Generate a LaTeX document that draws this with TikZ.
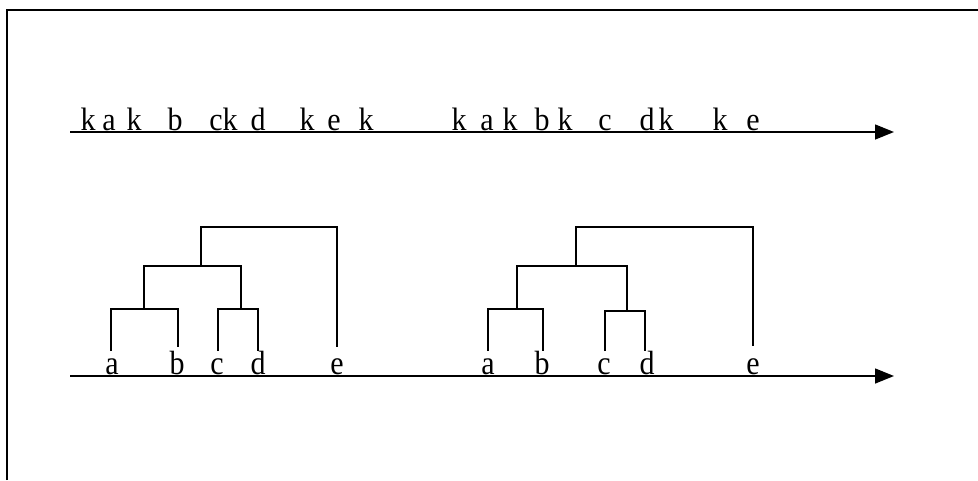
\documentclass[tikz,border=0pt]{standalone}
\usepackage{fontspec}
\setmainfont{Liberation Serif}
\usetikzlibrary{arrows.meta}
\begin{document}
\begin{tikzpicture}[x=1pt,y=-1pt,
  lbl/.style={inner sep=0pt,anchor=base,font=\fontsize{30}{30}\selectfont},
  axis/.style={line width=1.5pt,-{Triangle[length=19pt,width=15pt]}},
  tree/.style={line width=1.4pt},
  frame/.style={line width=2pt}]
\useasboundingbox (0,0) rectangle (978,480);
% frame
\coordinate (f1) at (6.5,480);
\coordinate (f2) at (6.5,9.5);
\coordinate (f3) at (978,9.5);
\draw[frame] (f1) -- (f2) -- (f3);
% axes
\coordinate (t0) at (70,132);
\coordinate (t1) at (894,132);
\coordinate (b0) at (70,376);
\coordinate (b1) at (894,376);
\draw[axis] (t0) -- (t1);
\draw[axis] (b0) -- (b1);
% top letters
\foreach \x/\t [count=\i] in {88/k,109/a,134/k,175/b,216/c,230/k,258/d,307/k,334/e,366/k,
  459/k,487/a,510/k,542/b,565/k,605/c,647/d,666/k,720/k,753/e}
  \node[lbl] (top\i) at (\x,130) {\scalebox{1}[1.08]{\t}};
% bottom letters
\foreach \x/\t in {112/a,177/b,217/c,258/d,337/e}
  \node[lbl] (L\t) at (\x,374) {\scalebox{1}[1.12]{\t}};
\foreach \x/\t in {488/a,542/b,604/c,647/d,753/e}
  \node[lbl] (R\t) at (\x,374) {\scalebox{1}[1.12]{\t}};
% dendrogram 1
\coordinate (la) at (111,351);
\coordinate (lb) at (178,347);
\coordinate (lc) at (218,351);
\coordinate (ld) at (258,351);
\coordinate (le) at (337,347);
\coordinate (lab) at (144,309);
\coordinate (lcd) at (241,309);
\coordinate (labcd) at (201,266);
\coordinate (ltop) at (201,227);
\draw[tree] (la) |- (lab) -| (lb);
\draw[tree] (lc) |- (lcd) -| (ld);
\draw[tree] (lab) |- (labcd) -| (lcd);
\draw[tree] (labcd) -- (ltop) -| (le);
% dendrogram 2
\coordinate (ra) at (488,351);
\coordinate (rb) at (543,351);
\coordinate (rc) at (605,351);
\coordinate (rd) at (645,351);
\coordinate (re) at (753,346);
\coordinate (rab) at (517,309);
\coordinate (rcd) at (627,311);
\coordinate (rabcd) at (576,266);
\coordinate (rtop) at (576,227);
\draw[tree] (ra) |- (rab) -| (rb);
\draw[tree] (rc) |- (rcd) -| (rd);
\draw[tree] (rab) |- (rabcd) -| (rcd);
\draw[tree] (rabcd) -- (rtop) -| (re);
\end{tikzpicture}
\end{document}
